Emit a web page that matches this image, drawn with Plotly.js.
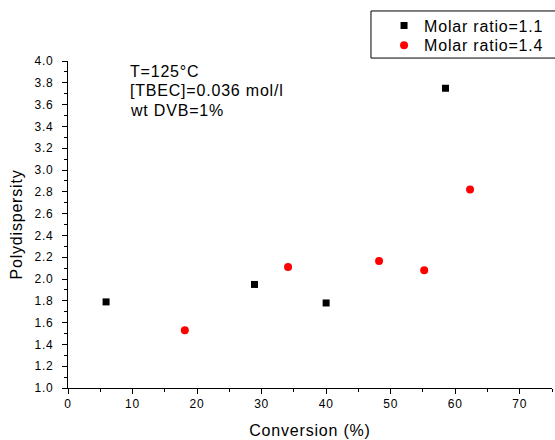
<!DOCTYPE html>
<html>
<head>
<meta charset="utf-8">
<script src="https://cdn.plot.ly/plotly-3.0.1.min.js"></script>
<style>
html,body{margin:0;padding:0;background:#fff;}
#chart{width:555px;height:440px;}
text{letter-spacing:0.8px;}
</style>
</head>
<body>
<div id="chart"></div>
<script>
// Data
const seriesNames = ["Molar ratio=1.1", "Molar ratio=1.4"];
const conv11 = [5.9, 28.9, 40.0, 58.5];
const pdi11  = [1.79, 1.95, 1.78, 3.75];
const conv14 = [18.1, 34.1, 48.2, 55.2, 62.3];
const pdi14  = [1.53, 2.11, 2.165, 2.08, 2.82];
const noteLines = ["T=125°C", "[TBEC]=0.036 mol/l", "wt DVB=1%"];
const xTitle = "Conversion (%)";
const yTitle = "Polydispersity";

const FONT = "Arial, 'Liberation Sans', sans-serif";

const traces = [
  {x: conv11, y: pdi11, name: seriesNames[0], type: "scatter", mode: "markers", legend: "legend",
   marker: {symbol: "square", size: 7, color: "#000000"}},
  {x: conv14, y: pdi14, name: seriesNames[1], type: "scatter", mode: "markers", legend: "legend2",
   marker: {symbol: "circle", size: 8, color: "#ff0000"}}
];

const legendCommon = {
  xanchor: "left", yanchor: "middle", borderwidth: 0,
  bgcolor: "rgba(0,0,0,0)", font: {size: 16, family: FONT, color: "#000000"}
};

const noteY = [0.9694, 0.9113, 0.8471];

const layout = {
  width: 555, height: 440,
  margin: {l: 68, r: 3, t: 61, b: 52},
  paper_bgcolor: "#ffffff", plot_bgcolor: "#ffffff",
  font: {family: FONT, color: "#000000"},
  showlegend: true,
  legend: Object.assign({x: 0.653, y: 1.108}, legendCommon),
  legend2: Object.assign({x: 0.653, y: 1.048}, legendCommon),
  shapes: [{
    type: "rect", xref: "paper", yref: "paper",
    x0: 0.626, x1: 1.03, y0: 1.009, y1: 1.153,
    line: {color: "#000000", width: 1}, fillcolor: "rgba(0,0,0,0)", layer: "below"
  }],
  xaxis: {
    range: [0, 75], dtick: 10, tick0: 0,
    showgrid: false, zeroline: false,
    showline: true, linecolor: "#000000", linewidth: 1,
    ticks: "outside", ticklen: 5, tickwidth: 1, tickcolor: "#000000",
    tickfont: {size: 12, family: FONT},
    minor: {dtick: 5, ticks: "outside", ticklen: 3, tickcolor: "#000000", showgrid: false},
    title: {text: xTitle, font: {size: 16, family: FONT}, standoff: 14}
  },
  yaxis: {
    range: [1, 4], dtick: 0.2, tick0: 1, tickformat: ".1f",
    showgrid: false, zeroline: false,
    showline: true, linecolor: "#000000", linewidth: 1,
    ticks: "outside", ticklen: 5, tickwidth: 1, tickcolor: "#000000",
    ticklabelstandoff: 6,
    tickfont: {size: 12, family: FONT},
    minor: {dtick: 0.1, ticks: "outside", ticklen: 3, tickcolor: "#000000", showgrid: false},
    title: {text: yTitle, font: {size: 16, family: FONT}, standoff: 7}
  },
  annotations: noteLines.map((t, i) => ({
    xref: "paper", yref: "paper", x: 0.124, y: noteY[i],
    xanchor: "left", yanchor: "middle", align: "left", showarrow: false,
    text: t, font: {size: 16, family: FONT, color: "#000000"}
  }))
};

Plotly.newPlot("chart", traces, layout, {displayModeBar: false, staticPlot: true});
</script>
</body>
</html>
